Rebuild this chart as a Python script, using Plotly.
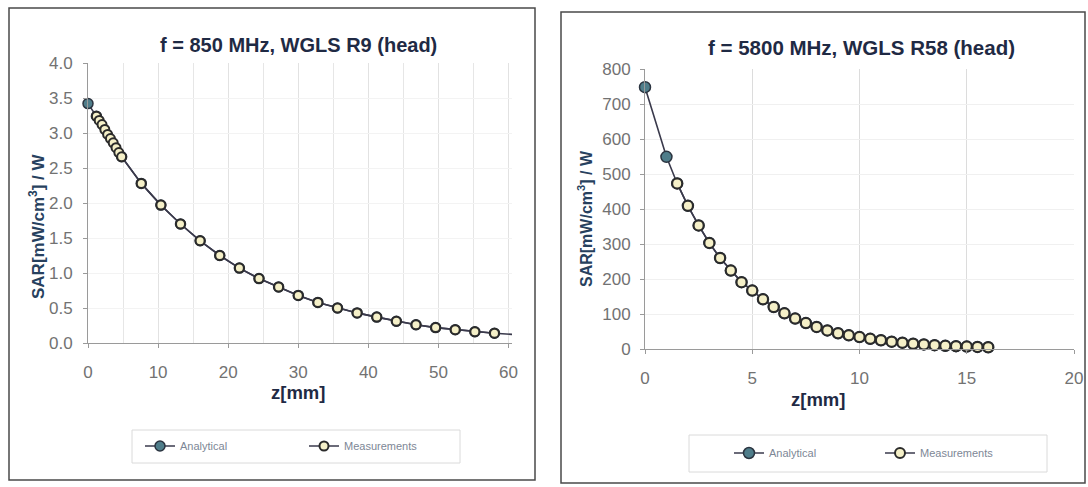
import plotly.graph_objects as go

# ---------- DADOS ----------
# 850 MHz, WGLS R9 (head)
z_meas_850 = [1.2, 1.6, 2.0, 2.4, 2.8, 3.2, 3.6, 4.0, 4.4, 4.8,
              7.6, 10.4, 13.2, 16.0, 18.8, 21.6, 24.4, 27.2, 30.0, 32.8,
              35.6, 38.4, 41.2, 44.0, 46.8, 49.6, 52.4, 55.2, 58.0]
sar_meas_850 = [3.24, 3.18, 3.12, 3.05, 2.98, 2.92, 2.86, 2.79, 2.72, 2.66,
                2.28, 1.97, 1.70, 1.46, 1.25, 1.07, 0.92, 0.80, 0.68, 0.58,
                0.50, 0.43, 0.37, 0.31, 0.26, 0.22, 0.19, 0.16, 0.14]
z_anal_850 = [0.0, 1.2, 4.8, 7.6, 10.4, 13.2, 16.0, 18.8, 21.6, 24.4, 27.2,
              30.0, 32.8, 35.6, 38.4, 41.2, 44.0, 46.8, 49.6, 52.4, 55.2, 58.0, 61.0]
sar_anal_850 = [3.42, 3.24, 2.66, 2.28, 1.97, 1.70, 1.46, 1.25, 1.07, 0.92, 0.80,
                0.68, 0.58, 0.50, 0.43, 0.37, 0.31, 0.26, 0.22, 0.19, 0.16, 0.14, 0.12]

# 5800 MHz, WGLS R58 (head)
z_meas_5800 = [1.5, 2.0, 2.5, 3.0, 3.5, 4.0, 4.5, 5.0, 5.5, 6.0,
               6.5, 7.0, 7.5, 8.0, 8.5, 9.0, 9.5, 10.0, 10.5, 11.0,
               11.5, 12.0, 12.5, 13.0, 13.5, 14.0, 14.5, 15.0, 15.5, 16.0]
sar_meas_5800 = [473, 409, 353, 303, 260, 224, 191, 167, 142, 120,
                 102, 87, 74, 63, 53, 45, 39, 34, 29, 25,
                 21, 18, 15, 13, 11, 9, 8, 7, 6, 5]
z_anal_5800 = [0.0, 1.0] + z_meas_5800
sar_anal_5800 = [748, 549] + sar_meas_5800

titulos = ["f = 850 MHz, WGLS R9 (head)", "f = 5800 MHz, WGLS R58 (head)"]
nomes = ["Analytical", "Measurements"]

W, H = 1088, 487


def px_x(p):
    return p / W


def px_y(p):
    return 1 - p / H


FONT = "Arial, Liberation Sans, sans-serif"
COR_LINHA = '#3a3a4c'
COR_TICK = '#727272'
COR_TITULO = '#1f2a44'

fig = go.Figure()

# a curva analítica de 850 MHz passa um pouco do fim do eixo: o último trecho vai só como linha
series = [
    (z_anal_850[:-1], sar_anal_850[:-1], z_meas_850, sar_meas_850, 'x', 'y', 'legend', 10),
    (z_anal_5800, sar_anal_5800, z_meas_5800, sar_meas_5800, 'x2', 'y2', 'legend2', 11),
]
fig.add_trace(go.Scatter(
    x=z_anal_850[-2:], y=sar_anal_850[-2:], mode='lines', xaxis='x', yaxis='y',
    showlegend=False, hoverinfo='skip', line=dict(color=COR_LINHA, width=1.6)
))
for za, sa, zm, sm, xa, ya, leg, ms in series:
    fig.add_trace(go.Scatter(
        x=za, y=sa, name=nomes[0], mode='lines+markers', xaxis=xa, yaxis=ya, legend=leg,
        cliponaxis=False,
        line=dict(color=COR_LINHA, width=1.6),
        marker=dict(size=ms, color='#4f7d8a', line=dict(color='#2b3440', width=1.5))
    ))
    fig.add_trace(go.Scatter(
        x=zm, y=sm, name=nomes[1], mode='lines+markers', xaxis=xa, yaxis=ya, legend=leg,
        cliponaxis=False,
        line=dict(color=COR_LINHA, width=1.6),
        marker=dict(size=ms - 1, color='#f5f0c8', line=dict(color='#2b2b2b', width=2))
    ))

eixo_comum = dict(
    showline=True, linecolor='#9a9a9a', linewidth=1,
    ticks='outside', ticklen=4, tickcolor='#9a9a9a',
    tickfont=dict(family=FONT, size=17, color=COR_TICK),
    zeroline=False,
)

legenda_comum = dict(
    xanchor='left', yanchor='middle', orientation='h', borderwidth=0,
    bgcolor='rgba(0,0,0,0)',
    font=dict(family=FONT, size=11, color='#7d8796'),
    entrywidthmode='pixels', itemwidth=30,
)

fig.update_layout(
    width=W, height=H,
    margin=dict(l=0, r=0, t=0, b=0, autoexpand=False),
    paper_bgcolor='white', plot_bgcolor='white',
    font=dict(family=FONT),
    xaxis=dict(
        domain=[px_x(88), px_x(512)], anchor='y', range=[0, 60.5], dtick=10,
        showgrid=True, gridcolor='#e2e2e2', ticklabelstandoff=10,
        minor=dict(dtick=5, showgrid=True, gridcolor='#e6e6e6'),
        **eixo_comum
    ),
    yaxis=dict(
        domain=[px_y(343), px_y(63)], anchor='x', range=[0, 4], dtick=0.5,
        tickformat='.1f', showgrid=True, gridcolor='#f3f3f3', ticklabelstandoff=7,
        **eixo_comum
    ),
    xaxis2=dict(
        domain=[px_x(645), px_x(1074)], anchor='y2', range=[0, 20], dtick=5,
        showgrid=True, gridcolor='#dcdcdc', ticklabelstandoff=10,
        **eixo_comum
    ),
    yaxis2=dict(
        domain=[px_y(349), px_y(69)], anchor='x2', range=[0, 800], dtick=100,
        showgrid=True, gridcolor='#f0f0f0', ticklabelstandoff=6,
        **eixo_comum
    ),
    legend=dict(x=px_x(140), y=px_y(446), entrywidth=119, **legenda_comum),
    legend2=dict(x=px_x(729), y=px_y(453), entrywidth=106, **legenda_comum),
    showlegend=True,
)

# molduras dos dois gráficos e caixas das legendas
caixas = [
    (9, 535, 8, 480, '#4a4a4a', 1.5),
    (561, 1085, 12, 483, '#4a4a4a', 1.5),
    (132, 460, 430, 463, '#dadada', 1),
    (689, 1047, 435, 472, '#dadada', 1),
]
for x0, x1, y0, y1, cor, lw in caixas:
    fig.add_shape(type='rect', xref='paper', yref='paper',
                  x0=px_x(x0), x1=px_x(x1), y0=px_y(y1), y1=px_y(y0),
                  line=dict(color=cor, width=lw))

# títulos e rótulos dos eixos
textos = [
    (titulos[0], 298, 45, 20, 0, COR_TITULO),
    (titulos[1], 861, 47, 20.5, 0, COR_TITULO),
    ("z[mm]", 298, 392, 18.5, 0, COR_TITULO),
    ("z[mm]", 818, 399, 18.5, 0, COR_TITULO),
    ("SAR[mW/cm<sup>3</sup>] / W", 37, 227, 17, -90, '#27415e'),
    ("SAR[mW/cm<sup>3</sup>] / W", 585, 219, 16, -90, '#27415e'),
]
for txt, x, y, sz, ang, cor in textos:
    fig.add_annotation(
        text=f"<b>{txt}</b>", x=px_x(x), y=px_y(y), xref='paper', yref='paper',
        showarrow=False, textangle=ang, xanchor='center', yanchor='middle',
        font=dict(family=FONT, size=sz, color=cor)
    )

fig.write_html("out.html", config={'displayModeBar': False},
               post_script="document.body.style.margin='0';")
